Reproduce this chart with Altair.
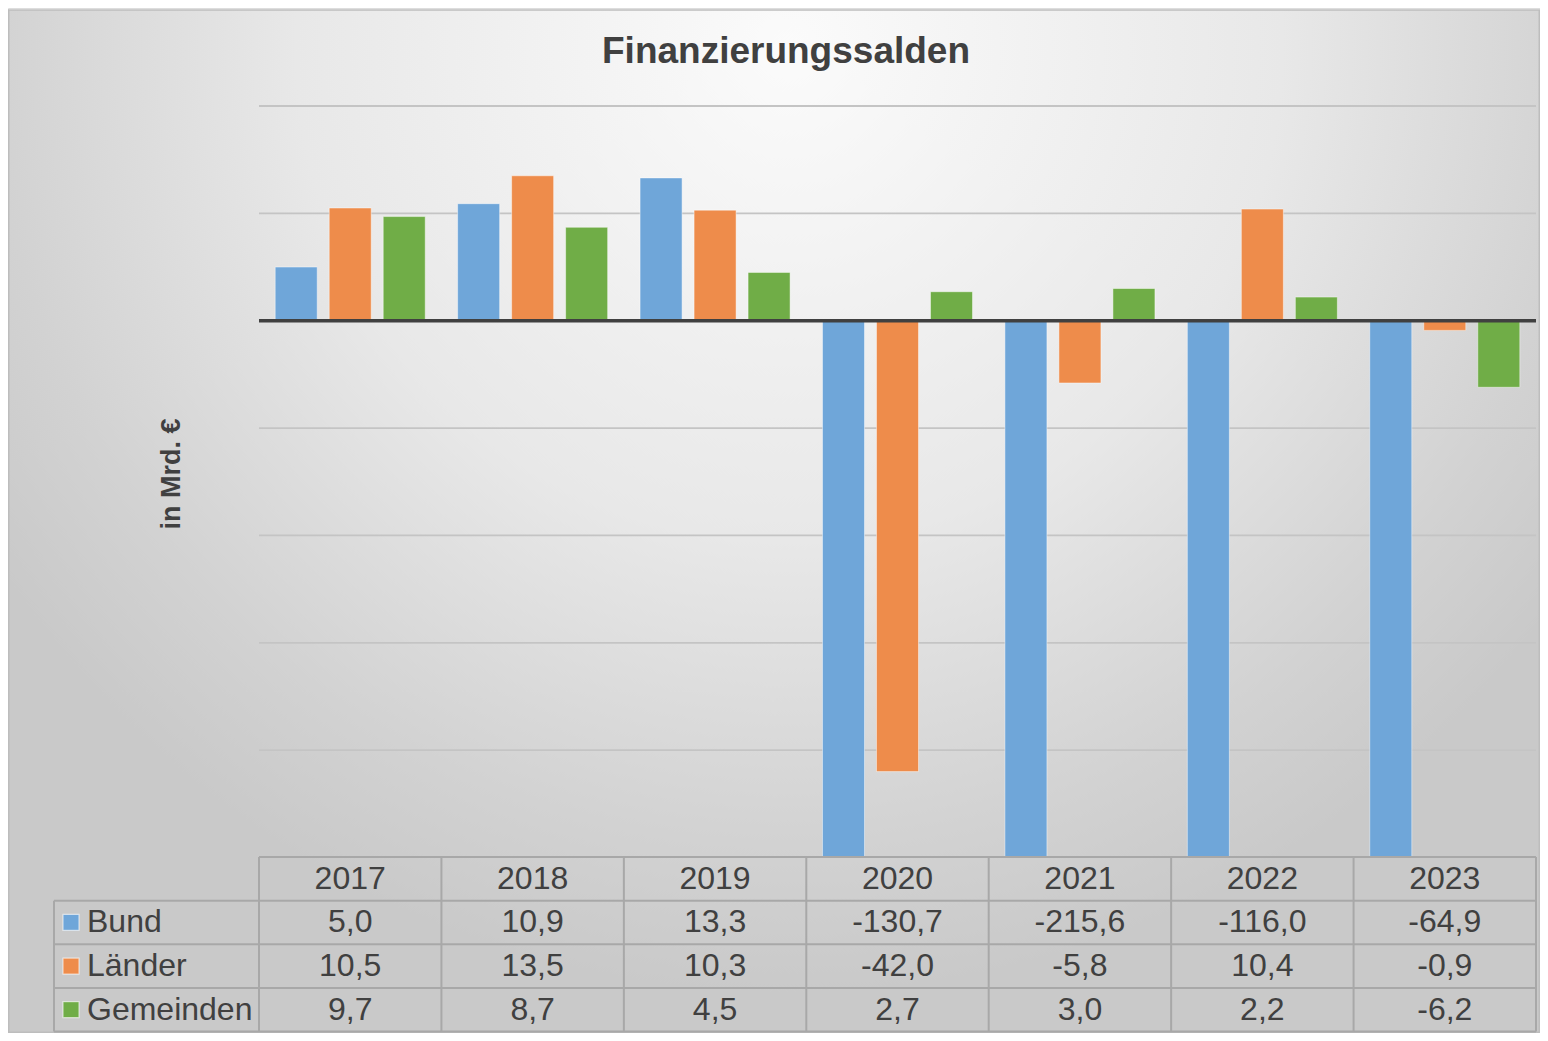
import altair as alt
import pandas as pd

# ---------------- data ----------------
years = ["2017", "2018", "2019", "2020", "2021", "2022", "2023"]
series = ["Bund", "Länder", "Gemeinden"]
bund = [5.0, 10.9, 13.3, -130.7, -215.6, -116.0, -64.9]
laender = [10.5, 13.5, 10.3, -42.0, -5.8, 10.4, -0.9]
gemeinden = [9.7, 8.7, 4.5, 2.7, 3.0, 2.2, -6.2]
grid_values = [20, 10, -10, -20, -30, -40]
y_domain = [-50, 20]
title_text = "Finanzierungssalden"
y_title_text = "in Mrd. €"

colors = ["#6fa6d9", "#ee8c4b", "#70ad47"]
TXT = "#404040"
FONT = "Liberation Sans"

# ---------------- layout (canvas pixels) ----------------
W, H = 1532, 1025
X_RANGE = [251, 1528]
Y_RANGE = [849.5, 98]        # -50 -> bottom of plot, 20 -> top
T_RANGE = [849, 1023.5]      # table rows 0..4

def fmt(v):
    return f"{v:.1f}".replace(".", ",")

rows = []
for s_i, (s, vals) in enumerate(zip(series, [bund, laender, gemeinden])):
    for y, v in zip(years, vals):
        rows.append({"year": y, "series": s, "value": v, "label": fmt(v),
                     "trow": s_i + 1.5})
df = pd.DataFrame(rows)

xscale = alt.Scale(domain=years, range=X_RANGE, paddingInner=0, paddingOuter=0)
yscale = alt.Scale(domain=y_domain, range=Y_RANGE, clamp=True, nice=False, zero=False)
tscale = alt.Scale(domain=[0, 4], range=T_RANGE, nice=False, zero=False)
cscale = alt.Scale(domain=series, range=colors)

one = pd.DataFrame({"a": [0]})

# background with radial gradient + frame
bg = alt.Chart(one).mark_rect(
    color=alt.RadialGradient(
        gradient="radial", x1=0.51, y1=0.19, r1=0, x2=0.51, y2=0.19, r2=0.62,
        stops=[alt.GradientStop(offset=0, color="#fbfbfb"),
               alt.GradientStop(offset=0.52, color="#e8e8e8"),
               alt.GradientStop(offset=0.84, color="#d2d2d2"),
               alt.GradientStop(offset=1, color="#c9c9c9")]),
    stroke="#bdbdbd", strokeWidth=1.5,
).encode(x=alt.value(0.75), x2=alt.value(W - 0.75), y=alt.value(2), y2=alt.value(H - 0.75))

# gridlines
grid = alt.Chart(pd.DataFrame({"g": grid_values})).mark_rule(
    color="#c4c4c4", strokeWidth=1.8
).encode(
    y=alt.Y("g:Q", scale=yscale, axis=None),
    x=alt.value(X_RANGE[0]), x2=alt.value(X_RANGE[1]),
)

bars = alt.Chart(df).mark_bar(stroke="white", strokeOpacity=0.45, strokeWidth=1).encode(
    x=alt.X("year:N", scale=xscale, axis=None),
    xOffset=alt.XOffset("series:N", sort=series,
                        scale=alt.Scale(domain=series, paddingInner=0.222, paddingOuter=0.3)),
    y=alt.Y("value:Q", scale=yscale, axis=None),
    y2=alt.datum(0),
    color=alt.Color("series:N", scale=cscale, legend=None),
)

zero = alt.Chart(pd.DataFrame({"z": [0]})).mark_rule(
    color="#404040", strokeWidth=3.6
).encode(
    y=alt.Y("z:Q", scale=yscale, axis=None),
    x=alt.value(X_RANGE[0]), x2=alt.value(X_RANGE[1]),
)

# ---------------- table ----------------
LINE = "#a8a8a8"
hdr_line = alt.Chart(pd.DataFrame({"t": [0]})).mark_rule(color=LINE, strokeWidth=2).encode(
    y=alt.Y("t:Q", scale=tscale, axis=None),
    x=alt.value(X_RANGE[0]), x2=alt.value(X_RANGE[1]),
)
row_lines = alt.Chart(pd.DataFrame({"t": [1, 2, 3, 4]})).mark_rule(color=LINE, strokeWidth=2).encode(
    y=alt.Y("t:Q", scale=tscale, axis=None),
    x=alt.value(46), x2=alt.value(X_RANGE[1]),
)
vdf = pd.DataFrame({"year": years, "t0": [0] * len(years), "t1": [4] * len(years)})
vlines = alt.Chart(vdf).mark_rule(color=LINE, strokeWidth=2).encode(
    x=alt.X("year:N", scale=xscale, axis=None, bandPosition=0),
    y=alt.Y("t0:Q", scale=tscale, axis=None), y2="t1:Q",
)
vlast = alt.Chart(vdf.tail(1)).mark_rule(color=LINE, strokeWidth=2).encode(
    x=alt.X("year:N", scale=xscale, axis=None, bandPosition=1),
    y=alt.Y("t0:Q", scale=tscale, axis=None), y2="t1:Q",
)
vleft = alt.Chart(pd.DataFrame({"t0": [1], "t1": [4]})).mark_rule(color=LINE, strokeWidth=2).encode(
    x=alt.value(46),
    y=alt.Y("t0:Q", scale=tscale, axis=None), y2="t1:Q",
)

year_txt = alt.Chart(pd.DataFrame({"year": years, "t": [0.5] * len(years)})).mark_text(
    font=FONT, fontSize=32, color=TXT, baseline="middle", align="center"
).encode(
    x=alt.X("year:N", scale=xscale, axis=None),
    y=alt.Y("t:Q", scale=tscale, axis=None),
    text="year:N",
)
val_txt = alt.Chart(df).mark_text(
    font=FONT, fontSize=32, color=TXT, baseline="middle", align="center"
).encode(
    x=alt.X("year:N", scale=xscale, axis=None),
    y=alt.Y("trow:Q", scale=tscale, axis=None),
    text="label:N",
)
ldf = pd.DataFrame({"series": series, "trow": [1.5, 2.5, 3.5]})
lab_txt = alt.Chart(ldf).mark_text(
    font=FONT, fontSize=32, color=TXT, baseline="middle", align="left"
).encode(
    x=alt.value(79),
    y=alt.Y("trow:Q", scale=tscale, axis=None),
    text="series:N",
)
lab_sq = alt.Chart(ldf).mark_square(size=256, opacity=1, stroke="white", strokeWidth=1.2,
                                    strokeOpacity=0.6).encode(
    x=alt.value(63),
    y=alt.Y("trow:Q", scale=tscale, axis=None),
    color=alt.Color("series:N", scale=cscale, legend=None),
)

title = alt.Chart(one).mark_text(
    text=title_text, font=FONT, fontSize=37, fontWeight="bold", color=TXT,
    align="center", baseline="alphabetic"
).encode(x=alt.value(778), y=alt.value(55))

ytitle = alt.Chart(one).mark_text(
    text=y_title_text, font=FONT, fontSize=27, fontWeight="bold", color=TXT,
    align="center", baseline="alphabetic", angle=270
).encode(x=alt.value(172), y=alt.value(466))

chart = alt.layer(
    bg, grid, bars, zero,
    hdr_line, row_lines, vlines, vlast, vleft,
    year_txt, val_txt, lab_txt, lab_sq, title, ytitle,
).resolve_scale(y="independent").properties(
    width=W, height=H,
    autosize=alt.AutoSizeParams(type="none"),
    padding={"left": 0, "top": 0, "right": 0, "bottom": 0},
).configure_view(stroke=None).configure(background="white")

chart.save("out.html", embed_options={"renderer": "svg", "actions": False})
